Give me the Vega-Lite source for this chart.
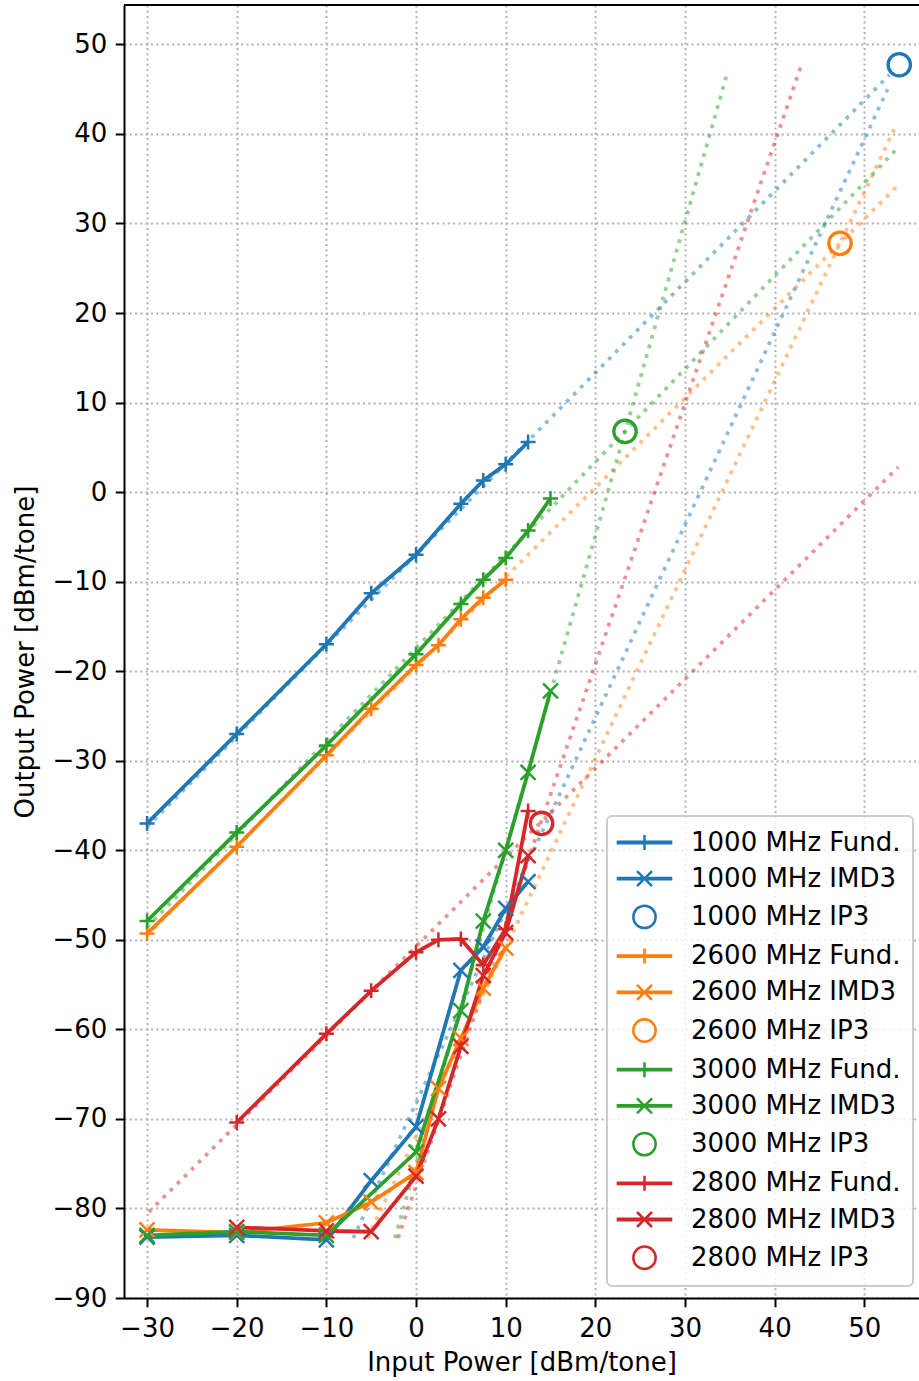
{
  "$schema": "https://vega.github.io/schema/vega-lite/v6.json",
  "width": 795,
  "height": 1293,
  "autosize": {"type": "none"},
  "padding": {"left": 124, "top": 5, "right": 0, "bottom": 83},
  "background": "white",
  "config": {
    "view": {"stroke": null},
    "font": "DejaVu Sans",
    "axis": {
      "labelFont": "DejaVu Sans",
      "labelFontSize": 26,
      "labelColor": "black",
      "titleFont": "DejaVu Sans",
      "titleFontSize": 26,
      "titleFontWeight": "normal",
      "titleColor": "black",
      "domainColor": "black",
      "domainWidth": 2,
      "tickColor": "black",
      "tickWidth": 2,
      "tickSize": 8.75,
      "gridColor": "#b0b0b0",
      "gridWidth": 2,
      "gridDash": [2, 3.3]
    },
    "legend": {"strokeWidth": 2}
  },
  "datasets": {
    "fits": [
      {"freq": "1000", "fit": "Fund.", "x": -30, "y": -37.4},
      {"freq": "1000", "fit": "Fund.", "x": 52.8, "y": 46.6},
      {"freq": "1000", "fit": "IMD3", "x": -7.0, "y": -83.3},
      {"freq": "1000", "fit": "IMD3", "x": 52.6, "y": 45.0},
      {"freq": "2600", "fit": "Fund.", "x": -30, "y": -49.5},
      {"freq": "2600", "fit": "Fund.", "x": 53.6, "y": 34.1},
      {"freq": "2600", "fit": "IMD3", "x": -5.4, "y": -83.3},
      {"freq": "2600", "fit": "IMD3", "x": 53.56, "y": 41.0},
      {"freq": "3000", "fit": "Fund.", "x": -30, "y": -48.6},
      {"freq": "3000", "fit": "Fund.", "x": 53.56, "y": 38.25},
      {"freq": "3000", "fit": "IMD3", "x": -2.35, "y": -83.3},
      {"freq": "3000", "fit": "IMD3", "x": 34.75, "y": 46.9},
      {"freq": "2800", "fit": "Fund.", "x": -29.8, "y": -80.4},
      {"freq": "2800", "fit": "Fund.", "x": 53.79, "y": 2.8},
      {"freq": "2800", "fit": "IMD3", "x": -2.0, "y": -83.3},
      {"freq": "2800", "fit": "IMD3", "x": 42.98, "y": 47.7}
    ],
    "meas": [
      {"series": "1000 MHz Fund.", "kind": "Fund.", "x": -30, "y": -37.0},
      {"series": "1000 MHz Fund.", "kind": "Fund.", "x": -20, "y": -27.0},
      {"series": "1000 MHz Fund.", "kind": "Fund.", "x": -10, "y": -17.0},
      {"series": "1000 MHz Fund.", "kind": "Fund.", "x": -5, "y": -11.3},
      {"series": "1000 MHz Fund.", "kind": "Fund.", "x": 0, "y": -7.0},
      {"series": "1000 MHz Fund.", "kind": "Fund.", "x": 5, "y": -1.3},
      {"series": "1000 MHz Fund.", "kind": "Fund.", "x": 7.5, "y": 1.3},
      {"series": "1000 MHz Fund.", "kind": "Fund.", "x": 10, "y": 3.1},
      {"series": "1000 MHz Fund.", "kind": "Fund.", "x": 12.5, "y": 5.6},
      {"series": "1000 MHz IMD3", "kind": "IMD3", "x": -30, "y": -83.2},
      {"series": "1000 MHz IMD3", "kind": "IMD3", "x": -20, "y": -83.0},
      {"series": "1000 MHz IMD3", "kind": "IMD3", "x": -10, "y": -83.5},
      {"series": "1000 MHz IMD3", "kind": "IMD3", "x": -5, "y": -76.9},
      {"series": "1000 MHz IMD3", "kind": "IMD3", "x": 0, "y": -70.9},
      {"series": "1000 MHz IMD3", "kind": "IMD3", "x": 5, "y": -53.4},
      {"series": "1000 MHz IMD3", "kind": "IMD3", "x": 7.5, "y": -50.8},
      {"series": "1000 MHz IMD3", "kind": "IMD3", "x": 10, "y": -46.5},
      {"series": "1000 MHz IMD3", "kind": "IMD3", "x": 12.5, "y": -43.5},
      {"series": "2600 MHz Fund.", "kind": "Fund.", "x": -30, "y": -49.3},
      {"series": "2600 MHz Fund.", "kind": "Fund.", "x": -20, "y": -39.6},
      {"series": "2600 MHz Fund.", "kind": "Fund.", "x": -10, "y": -29.4},
      {"series": "2600 MHz Fund.", "kind": "Fund.", "x": -5, "y": -24.2},
      {"series": "2600 MHz Fund.", "kind": "Fund.", "x": 0, "y": -19.3},
      {"series": "2600 MHz Fund.", "kind": "Fund.", "x": 2.5, "y": -17.1},
      {"series": "2600 MHz Fund.", "kind": "Fund.", "x": 5, "y": -14.2},
      {"series": "2600 MHz Fund.", "kind": "Fund.", "x": 7.5, "y": -11.8},
      {"series": "2600 MHz Fund.", "kind": "Fund.", "x": 10, "y": -9.8},
      {"series": "2600 MHz IMD3", "kind": "IMD3", "x": -30, "y": -82.4},
      {"series": "2600 MHz IMD3", "kind": "IMD3", "x": -20, "y": -82.7},
      {"series": "2600 MHz IMD3", "kind": "IMD3", "x": -10, "y": -81.6},
      {"series": "2600 MHz IMD3", "kind": "IMD3", "x": -5, "y": -79.3},
      {"series": "2600 MHz IMD3", "kind": "IMD3", "x": 0, "y": -76.0},
      {"series": "2600 MHz IMD3", "kind": "IMD3", "x": 2.5, "y": -66.6},
      {"series": "2600 MHz IMD3", "kind": "IMD3", "x": 5, "y": -61.0},
      {"series": "2600 MHz IMD3", "kind": "IMD3", "x": 7.5, "y": -55.4},
      {"series": "2600 MHz IMD3", "kind": "IMD3", "x": 10, "y": -50.9},
      {"series": "3000 MHz Fund.", "kind": "Fund.", "x": -30, "y": -47.9},
      {"series": "3000 MHz Fund.", "kind": "Fund.", "x": -20, "y": -38.0},
      {"series": "3000 MHz Fund.", "kind": "Fund.", "x": -10, "y": -28.3},
      {"series": "3000 MHz Fund.", "kind": "Fund.", "x": 0, "y": -18.1},
      {"series": "3000 MHz Fund.", "kind": "Fund.", "x": 5, "y": -12.5},
      {"series": "3000 MHz Fund.", "kind": "Fund.", "x": 7.5, "y": -9.8},
      {"series": "3000 MHz Fund.", "kind": "Fund.", "x": 10, "y": -7.35},
      {"series": "3000 MHz Fund.", "kind": "Fund.", "x": 12.5, "y": -4.3},
      {"series": "3000 MHz Fund.", "kind": "Fund.", "x": 15, "y": -0.7},
      {"series": "3000 MHz IMD3", "kind": "IMD3", "x": -30, "y": -83.0},
      {"series": "3000 MHz IMD3", "kind": "IMD3", "x": -20, "y": -82.6},
      {"series": "3000 MHz IMD3", "kind": "IMD3", "x": -10, "y": -83.0},
      {"series": "3000 MHz IMD3", "kind": "IMD3", "x": 0, "y": -73.7},
      {"series": "3000 MHz IMD3", "kind": "IMD3", "x": 5, "y": -57.9},
      {"series": "3000 MHz IMD3", "kind": "IMD3", "x": 7.5, "y": -47.9},
      {"series": "3000 MHz IMD3", "kind": "IMD3", "x": 10, "y": -40.0},
      {"series": "3000 MHz IMD3", "kind": "IMD3", "x": 12.5, "y": -31.3},
      {"series": "3000 MHz IMD3", "kind": "IMD3", "x": 15, "y": -22.2},
      {"series": "2800 MHz Fund.", "kind": "Fund.", "x": -20, "y": -70.4},
      {"series": "2800 MHz Fund.", "kind": "Fund.", "x": -10, "y": -60.5},
      {"series": "2800 MHz Fund.", "kind": "Fund.", "x": -5, "y": -55.7},
      {"series": "2800 MHz Fund.", "kind": "Fund.", "x": 0, "y": -51.4},
      {"series": "2800 MHz Fund.", "kind": "Fund.", "x": 2.5, "y": -50.0},
      {"series": "2800 MHz Fund.", "kind": "Fund.", "x": 5, "y": -49.9},
      {"series": "2800 MHz Fund.", "kind": "Fund.", "x": 7.5, "y": -52.8},
      {"series": "2800 MHz Fund.", "kind": "Fund.", "x": 10, "y": -48.8},
      {"series": "2800 MHz Fund.", "kind": "Fund.", "x": 12.5, "y": -35.6},
      {"series": "2800 MHz IMD3", "kind": "IMD3", "x": -20, "y": -82.1},
      {"series": "2800 MHz IMD3", "kind": "IMD3", "x": -10, "y": -82.5},
      {"series": "2800 MHz IMD3", "kind": "IMD3", "x": -5, "y": -82.6},
      {"series": "2800 MHz IMD3", "kind": "IMD3", "x": 0, "y": -76.4},
      {"series": "2800 MHz IMD3", "kind": "IMD3", "x": 2.5, "y": -70.0},
      {"series": "2800 MHz IMD3", "kind": "IMD3", "x": 5, "y": -61.9},
      {"series": "2800 MHz IMD3", "kind": "IMD3", "x": 7.5, "y": -54.0},
      {"series": "2800 MHz IMD3", "kind": "IMD3", "x": 10, "y": -49.2},
      {"series": "2800 MHz IMD3", "kind": "IMD3", "x": 12.5, "y": -40.6}
    ],
    "ip3": [
      {"series": "1000 MHz IP3", "x": 53.9, "y": 47.73},
      {"series": "2600 MHz IP3", "x": 47.29, "y": 27.78},
      {"series": "3000 MHz IP3", "x": 23.31, "y": 6.78},
      {"series": "2800 MHz IP3", "x": 14.0, "y": -37.0}
    ],
    "frame": [{"top": 54.4}]
  },
  "layer": [
    {
      "data": {"name": "fits"},
      "mark": {"type": "line", "strokeWidth": 3.75, "strokeDash": [3.75, 6.2], "opacity": 0.5},
      "encoding": {
        "x": {
          "field": "x", "type": "quantitative",
          "scale": {"domain": [-32.57, 56.1], "nice": false, "zero": false},
          "axis": {
            "title": "Input Power [dBm/tone]",
            "values": [-30, -20, -10, 0, 10, 20, 30, 40, 50],
            "labelPadding": 8.5, "titlePadding": 8, "grid": true
          }
        },
        "y": {
          "field": "y", "type": "quantitative",
          "scale": {"domain": [-90, 54.4], "nice": false, "zero": false},
          "axis": {
            "title": "Output Power [dBm/tone]",
            "values": [-90, -80, -70, -60, -50, -40, -30, -20, -10, 0, 10, 20, 30, 40, 50],
            "labelPadding": 8.5, "titlePadding": 13, "grid": true
          }
        },
        "stroke": {
          "field": "freq", "type": "nominal",
          "scale": {"domain": ["1000", "2600", "3000", "2800"], "range": ["#1f77b4", "#ff7f0e", "#2ca02c", "#d62728"]},
          "legend": null
        },
        "detail": {"field": "fit", "type": "nominal"}
      }
    },
    {
      "data": {"name": "meas"},
      "mark": {"type": "line", "strokeWidth": 3.75},
      "encoding": {
        "x": {"field": "x", "type": "quantitative"},
        "y": {"field": "y", "type": "quantitative"},
        "color": {
          "field": "series", "type": "nominal",
          "scale": {
            "domain": ["1000 MHz Fund.", "1000 MHz IMD3", "1000 MHz IP3", "2600 MHz Fund.", "2600 MHz IMD3", "2600 MHz IP3", "3000 MHz Fund.", "3000 MHz IMD3", "3000 MHz IP3", "2800 MHz Fund.", "2800 MHz IMD3", "2800 MHz IP3"],
            "range": ["#1f77b4", "#1f77b4", "#1f77b4", "#ff7f0e", "#ff7f0e", "#ff7f0e", "#2ca02c", "#2ca02c", "#2ca02c", "#d62728", "#d62728", "#d62728"]
          },
          "legend": {
            "title": null,
            "orient": "none",
            "legendX": 483,
            "legendY": 811,
            "labelFont": "DejaVu Sans",
            "labelFontSize": 26,
            "labelColor": "black",
            "labelLimit": 400,
            "labelOffset": 32,
            "symbolOffset": 11,
            "symbolSize": 676,
            "symbolStrokeWidth": 2.5,
            "symbolOpacity": 1,
            "symbolFillColor": "transparent",
            "rowPadding": 8.2,
            "padding": 12,
            "strokeColor": "#cccccc",
            "fillColor": "rgba(255,255,255,0.8)",
            "cornerRadius": 5
          }
        },
        "detail": {"field": "series", "type": "nominal"}
      }
    },
    {
      "data": {"name": "meas"},
      "transform": [{"filter": "datum.kind === 'Fund.'"}],
      "mark": {"type": "point", "shape": "M-1,0H1M0,-1V1", "filled": false, "size": 225, "strokeWidth": 2.5, "opacity": 1},
      "encoding": {
        "x": {"field": "x", "type": "quantitative"},
        "y": {"field": "y", "type": "quantitative"},
        "color": {"field": "series", "type": "nominal"}
      }
    },
    {
      "data": {"name": "meas"},
      "transform": [{"filter": "datum.kind === 'IMD3'"}],
      "mark": {"type": "point", "shape": "M-1,-1L1,1M1,-1L-1,1", "filled": false, "size": 225, "strokeWidth": 2.5, "opacity": 1},
      "encoding": {
        "x": {"field": "x", "type": "quantitative"},
        "y": {"field": "y", "type": "quantitative"},
        "color": {"field": "series", "type": "nominal"}
      }
    },
    {
      "data": {"name": "ip3"},
      "mark": {"type": "point", "filled": false, "size": 676, "strokeWidth": 3.3, "opacity": 1},
      "encoding": {
        "x": {"field": "x", "type": "quantitative"},
        "y": {"field": "y", "type": "quantitative"},
        "color": {"field": "series", "type": "nominal"},
        "shape": {
          "field": "series", "type": "nominal",
          "scale": {
            "domain": ["1000 MHz Fund.", "1000 MHz IMD3", "1000 MHz IP3", "2600 MHz Fund.", "2600 MHz IMD3", "2600 MHz IP3", "3000 MHz Fund.", "3000 MHz IMD3", "3000 MHz IP3", "2800 MHz Fund.", "2800 MHz IMD3", "2800 MHz IP3"],
            "range": [
              "M-2.14,-0.05H2.14M-2.14,0.05H2.14M0,-0.577V0.577",
              "M-2.14,-0.05H2.14M-2.14,0.05H2.14M-0.577,-0.577L0.577,0.577M0.577,-0.577L-0.577,0.577",
              "M0.86,0A0.86,0.86,0,1,1,-0.86,0A0.86,0.86,0,1,1,0.86,0Z",
              "M-2.14,-0.05H2.14M-2.14,0.05H2.14M0,-0.577V0.577",
              "M-2.14,-0.05H2.14M-2.14,0.05H2.14M-0.577,-0.577L0.577,0.577M0.577,-0.577L-0.577,0.577",
              "M0.86,0A0.86,0.86,0,1,1,-0.86,0A0.86,0.86,0,1,1,0.86,0Z",
              "M-2.14,-0.05H2.14M-2.14,0.05H2.14M0,-0.577V0.577",
              "M-2.14,-0.05H2.14M-2.14,0.05H2.14M-0.577,-0.577L0.577,0.577M0.577,-0.577L-0.577,0.577",
              "M0.86,0A0.86,0.86,0,1,1,-0.86,0A0.86,0.86,0,1,1,0.86,0Z",
              "M-2.14,-0.05H2.14M-2.14,0.05H2.14M0,-0.577V0.577",
              "M-2.14,-0.05H2.14M-2.14,0.05H2.14M-0.577,-0.577L0.577,0.577M0.577,-0.577L-0.577,0.577",
              "M0.86,0A0.86,0.86,0,1,1,-0.86,0A0.86,0.86,0,1,1,0.86,0Z"
            ]
          },
          "legend": {
            "title": null,
            "orient": "none",
            "legendX": 483,
            "legendY": 811,
            "labelFont": "DejaVu Sans",
            "labelFontSize": 26,
            "labelColor": "black",
            "labelLimit": 400,
            "labelOffset": 32,
            "symbolOffset": 11,
            "symbolSize": 676,
            "symbolStrokeWidth": 2.5,
            "symbolOpacity": 1,
            "symbolFillColor": "transparent",
            "rowPadding": 8.2,
            "padding": 12,
            "strokeColor": "#cccccc",
            "fillColor": "rgba(255,255,255,0.8)",
            "cornerRadius": 5
          }
        }
      }
    },
    {
      "data": {"name": "frame"},
      "mark": {"type": "rule", "color": "black", "strokeWidth": 2},
      "encoding": {
        "y": {"field": "top", "type": "quantitative"}
      }
    }
  ]
}
